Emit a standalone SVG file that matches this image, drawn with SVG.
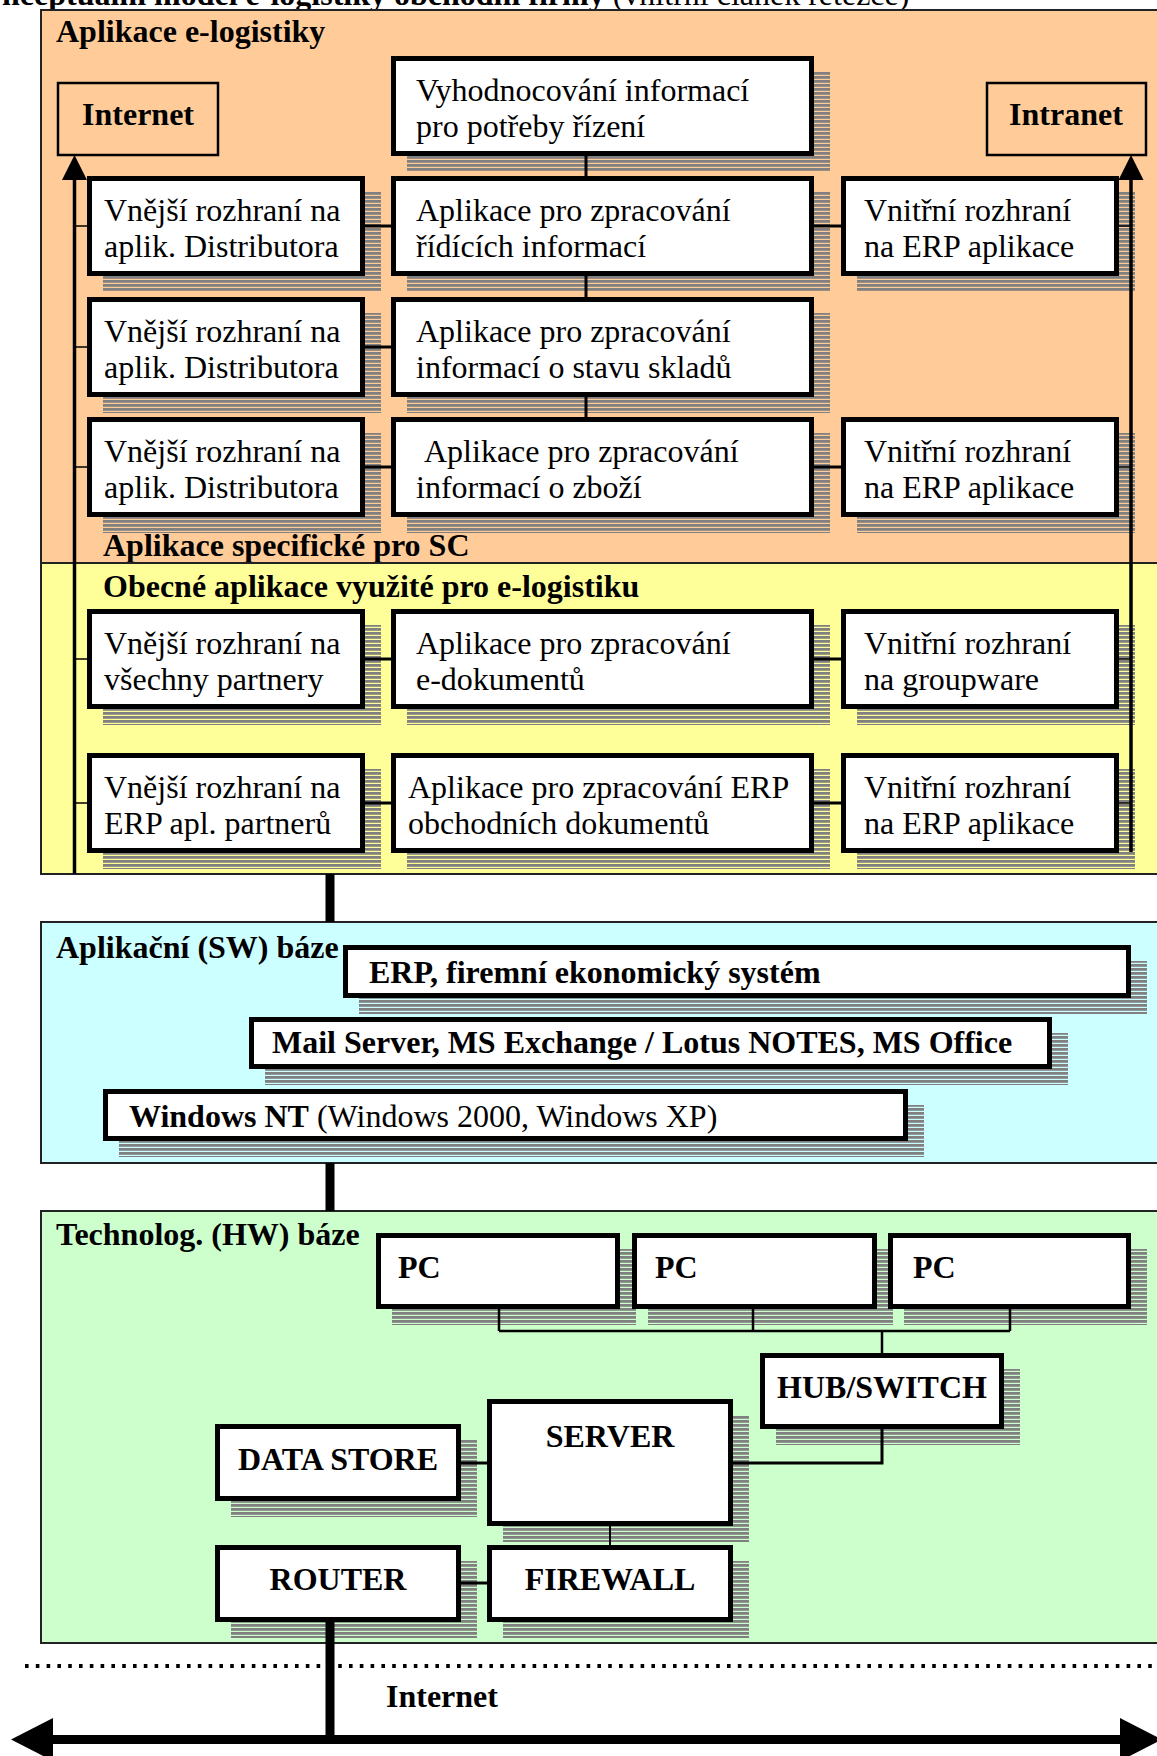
<svg xmlns="http://www.w3.org/2000/svg" width="1157" height="1756" viewBox="0 0 1157 1756">
<defs>
<pattern id="stripes" width="8" height="4" patternUnits="userSpaceOnUse"><rect width="8" height="2.8" fill="#808080"/></pattern>
<style>
.sh{fill:url(#stripes)}
.box{fill:#fff;stroke:#000;stroke-width:5}
.t{font-family:"Liberation Serif","Times New Roman",serif;font-size:32px;fill:#000}
.b{font-weight:bold}
.pn{stroke:#222;stroke-width:2}
.ln{stroke:#000;fill:none}
.thin{stroke-width:1.6}
.mid{stroke-width:3}
.thick{stroke-width:9}
.c{text-anchor:middle}
</style>
</defs>
<rect width="1157" height="1756" fill="#fff"/>

<text class="t" x="2" y="5"><tspan class="b">nceptuální model e-logistiky obchodní firmy </tspan>(vnitřní článek řetězce)</text>

<g id="panel-elog">
<rect class="pn" x="41" y="10" width="1130" height="553" fill="#FFCC99"/>
<text class="t b" x="56" y="42">Aplikace e-logistiky</text>
<text class="t b" x="103" y="556">Aplikace specifické pro SC</text>
</g>
<g id="panel-obecne">
<rect class="pn" x="41" y="563" width="1130" height="311" fill="#FFFF99"/>
<text class="t b" x="103" y="597">Obecné aplikace využité pro e-logistiku</text>
</g>
<g id="panel-sw">
<rect class="pn" x="41" y="922" width="1130" height="241" fill="#CCFFFF"/>
<text class="t b" x="56" y="958">Aplikační (SW) báze</text>
</g>
<g id="panel-hw">
<rect class="pn" x="41" y="1211" width="1130" height="432" fill="#CCFFCC"/>
<text class="t b" x="56" y="1245">Technolog. (HW) báze</text>
</g>

<g id="internet-top">
<rect x="58" y="83" width="160" height="72" fill="none" stroke="#000" stroke-width="2.5"/>
<text class="t b c" x="138" y="125">Internet</text>
</g>
<g id="intranet-top">
<rect x="987" y="83" width="159" height="72" fill="none" stroke="#000" stroke-width="2.5"/>
<text class="t b c" x="1066" y="125">Intranet</text>
</g>

<g id="vyhodnocovani">
<rect class="sh" x="407" y="72" width="423" height="100"/>
<rect class="box" x="393.5" y="58.5" width="418" height="95"/>
<text class="t" x="416" y="101">Vyhodnocování informací</text>
<text class="t" x="416" y="137">pro potřeby řízení</text>
</g>

<g id="a1">
<rect class="sh" x="103" y="192" width="278" height="100"/>
<rect class="box" x="89.5" y="178.5" width="273" height="95"/>
<text class="t" x="104" y="221">Vnější rozhraní na</text>
<text class="t" x="104" y="257">aplik. Distributora</text>
</g>
<g id="b1">
<rect class="sh" x="407" y="192" width="423" height="100"/>
<rect class="box" x="393.5" y="178.5" width="418" height="95"/>
<text class="t" x="416" y="221">Aplikace pro zpracování</text>
<text class="t" x="416" y="257">řídících informací</text>
</g>
<g id="c1">
<rect class="sh" x="857" y="192" width="278" height="100"/>
<rect class="box" x="843.5" y="178.5" width="273" height="95"/>
<text class="t" x="864" y="221">Vnitřní rozhraní</text>
<text class="t" x="864" y="257">na ERP aplikace</text>
</g>

<g id="a2">
<rect class="sh" x="103" y="313" width="278" height="100"/>
<rect class="box" x="89.5" y="299.5" width="273" height="95"/>
<text class="t" x="104" y="342">Vnější rozhraní na</text>
<text class="t" x="104" y="378">aplik. Distributora</text>
</g>
<g id="b2">
<rect class="sh" x="407" y="313" width="423" height="100"/>
<rect class="box" x="393.5" y="299.5" width="418" height="95"/>
<text class="t" x="416" y="342">Aplikace pro zpracování</text>
<text class="t" x="416" y="378">informací o stavu skladů</text>
</g>

<g id="a3">
<rect class="sh" x="103" y="433" width="278" height="100"/>
<rect class="box" x="89.5" y="419.5" width="273" height="95"/>
<text class="t" x="104" y="462">Vnější rozhraní na</text>
<text class="t" x="104" y="498">aplik. Distributora</text>
</g>
<g id="b3">
<rect class="sh" x="407" y="433" width="423" height="100"/>
<rect class="box" x="393.5" y="419.5" width="418" height="95"/>
<text class="t" x="424" y="462">Aplikace pro zpracování</text>
<text class="t" x="416" y="498">informací o zboží</text>
</g>
<g id="c3">
<rect class="sh" x="857" y="433" width="278" height="100"/>
<rect class="box" x="843.5" y="419.5" width="273" height="95"/>
<text class="t" x="864" y="462">Vnitřní rozhraní</text>
<text class="t" x="864" y="498">na ERP aplikace</text>
</g>

<g id="a4">
<rect class="sh" x="103" y="625" width="278" height="100"/>
<rect class="box" x="89.5" y="611.5" width="273" height="95"/>
<text class="t" x="104" y="654">Vnější rozhraní na</text>
<text class="t" x="104" y="690">všechny partnery</text>
</g>
<g id="b4">
<rect class="sh" x="407" y="625" width="423" height="100"/>
<rect class="box" x="393.5" y="611.5" width="418" height="95"/>
<text class="t" x="416" y="654">Aplikace pro zpracování</text>
<text class="t" x="416" y="690">e-dokumentů</text>
</g>
<g id="c4">
<rect class="sh" x="857" y="625" width="278" height="100"/>
<rect class="box" x="843.5" y="611.5" width="273" height="95"/>
<text class="t" x="864" y="654">Vnitřní rozhraní</text>
<text class="t" x="864" y="690">na groupware</text>
</g>

<g id="a5">
<rect class="sh" x="103" y="769" width="278" height="100"/>
<rect class="box" x="89.5" y="755.5" width="273" height="95"/>
<text class="t" x="104" y="798">Vnější rozhraní na</text>
<text class="t" x="104" y="834">ERP apl. partnerů</text>
</g>
<g id="b5">
<rect class="sh" x="407" y="769" width="423" height="100"/>
<rect class="box" x="393.5" y="755.5" width="418" height="95"/>
<text class="t" x="408" y="798">Aplikace pro zpracování ERP</text>
<text class="t" x="408" y="834">obchodních dokumentů</text>
</g>
<g id="c5">
<rect class="sh" x="857" y="769" width="278" height="100"/>
<rect class="box" x="843.5" y="755.5" width="273" height="95"/>
<text class="t" x="864" y="798">Vnitřní rozhraní</text>
<text class="t" x="864" y="834">na ERP aplikace</text>
</g>

<g id="erp">
<rect class="sh" x="359" y="961" width="788" height="53"/>
<rect class="box" x="345.5" y="947.5" width="783" height="48"/>
<text class="t b" x="369" y="983">ERP, firemní ekonomický systém</text>
</g>
<g id="mail">
<rect class="sh" x="265" y="1033" width="803" height="52"/>
<rect class="box" x="251.5" y="1019.5" width="798" height="47"/>
<text class="t b" x="272" y="1053">Mail Server, MS Exchange / Lotus NOTES, MS Office</text>
</g>
<g id="windows">
<rect class="sh" x="119" y="1105" width="805" height="52"/>
<rect class="box" x="105.5" y="1091.5" width="800" height="47"/>
<text class="t" x="129" y="1127"><tspan class="b">Windows NT</tspan> (Windows 2000, Windows XP)</text>
</g>

<g id="pc1">
<rect class="sh" x="392" y="1249" width="244" height="76"/>
<rect class="box" x="378.5" y="1235.5" width="239" height="71"/>
<text class="t b" x="398" y="1278">PC</text>
</g>
<g id="pc2">
<rect class="sh" x="648" y="1249" width="245" height="76"/>
<rect class="box" x="634.5" y="1235.5" width="240" height="71"/>
<text class="t b" x="655" y="1278">PC</text>
</g>
<g id="pc3">
<rect class="sh" x="904" y="1249" width="243" height="76"/>
<rect class="box" x="890.5" y="1235.5" width="238" height="71"/>
<text class="t b" x="913" y="1278">PC</text>
</g>
<g id="hub">
<rect class="sh" x="776" y="1369" width="244" height="76"/>
<rect class="box" x="762.5" y="1355.5" width="239" height="71"/>
<text class="t b c" x="882" y="1398">HUB/SWITCH</text>
</g>
<g id="server">
<rect class="sh" x="503" y="1415" width="246" height="127"/>
<rect class="box" x="489.5" y="1401.5" width="241" height="122"/>
<text class="t b c" x="610" y="1447">SERVER</text>
</g>
<g id="datastore">
<rect class="sh" x="231" y="1440" width="246" height="77"/>
<rect class="box" x="217.5" y="1426.5" width="241" height="72"/>
<text class="t b c" x="338" y="1470">DATA STORE</text>
</g>
<g id="router">
<rect class="sh" x="231" y="1561" width="246" height="77"/>
<rect class="box" x="217.5" y="1547.5" width="241" height="72"/>
<text class="t b c" x="338" y="1590">ROUTER</text>
</g>
<g id="firewall">
<rect class="sh" x="503" y="1561" width="246" height="77"/>
<rect class="box" x="489.5" y="1547.5" width="241" height="72"/>
<text class="t b c" x="610" y="1590">FIREWALL</text>
</g>

<g id="internet-bottom">
<line x1="25" y1="1666" x2="1157" y2="1666" stroke="#000" stroke-width="3.8" stroke-dasharray="3.6 7.2"/>
<text class="t b" x="386" y="1707">Internet</text>
</g>

<g id="connectors">
<line class="ln" x1="74.5" y1="176" x2="74.5" y2="874" style="stroke-width:3.5"/>
<polygon points="74.5,155 62,180 87,180" fill="#000"/>
<path class="ln thin" d="M74.5 226H89M74.5 347H89M74.5 467H89M74.5 659H89M74.5 803H89"/>
<line class="ln" x1="1131" y1="176" x2="1131" y2="852" style="stroke-width:3.5"/>
<polygon points="1131,155 1118.5,180 1143.5,180" fill="#000"/>
<path class="ln thin" d="M1117 226H1131M1117 467H1131M1117 659H1131M1117 803H1131"/>
<path class="ln mid" d="M363 226H393M363 347H393M363 467H393M363 659H393M363 803H393"/>
<path class="ln mid" d="M812 226H843M812 467H843M812 659H843M812 803H843"/>
<path class="ln mid" d="M586 154V178M586 274V299M586 395V419"/>
<path class="ln thick" d="M330 874V922M330 1163V1211M330 1620V1739"/>
<path class="ln" style="stroke-width:2.5" d="M499 1307V1331M753 1307V1331M1010 1307V1331M499 1331H1010M882 1331V1355"/>
<path class="ln" style="stroke-width:3" d="M731 1463H882V1427"/>
<path class="ln mid" d="M459 1463H489M459 1583H489"/>
<path class="ln" style="stroke-width:2" d="M610 1524V1547"/>
<line x1="50" y1="1739.5" x2="1122" y2="1739.5" stroke="#000" stroke-width="9"/>
<polygon points="11,1739.5 53,1718 53,1761" fill="#000"/>
<polygon points="1162,1739.5 1120,1718 1120,1761" fill="#000"/>
</g>
</svg>
